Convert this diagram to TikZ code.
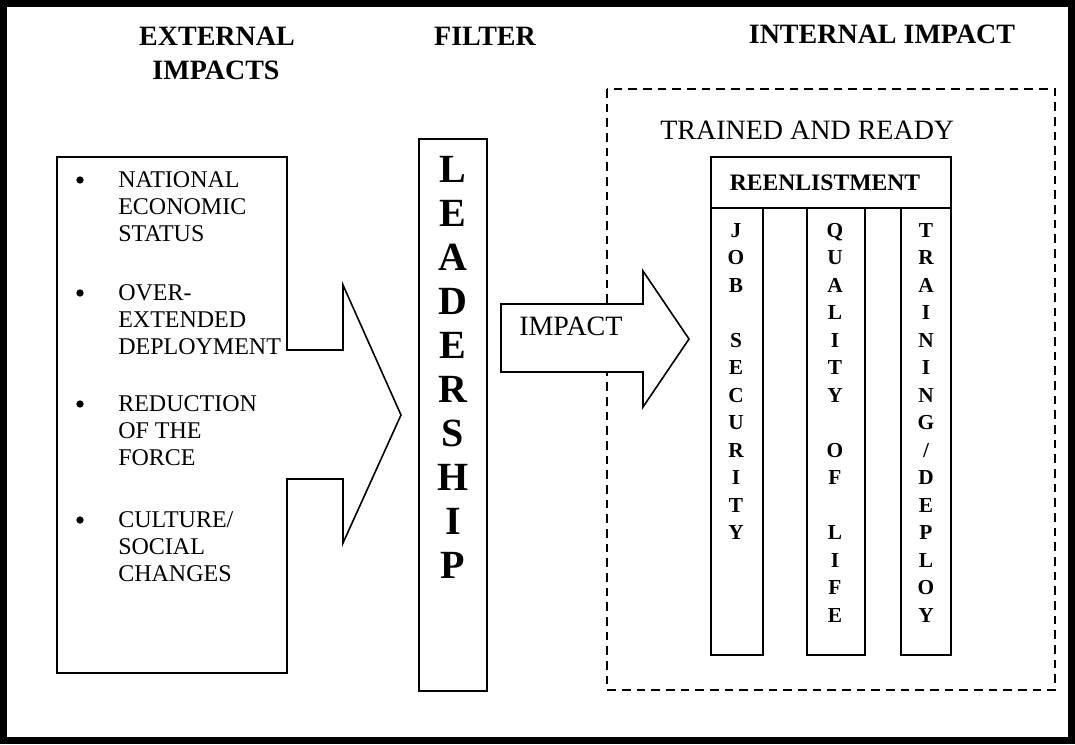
\documentclass[tikz,border=0pt]{standalone}
\usepackage{fontspec}
\setmainfont{Liberation Serif}

\tikzset{
  box/.style={draw, line width=1.2pt, line join=miter},
  dashbox/.style={draw, line width=1.2pt, dash pattern=on 6.5pt off 4.5pt},
  heading/.style={font=\fontsize{21}{25}\selectfont\bfseries, inner sep=0pt},
  itemtext/.style={font=\fontsize{18}{20.6}\selectfont, inner sep=0pt},
  bulletdot/.style={circle, fill, inner sep=0pt, minimum size=5.5pt},
  plaintext/.style={font=\fontsize{21}{25}\selectfont, inner sep=0pt},
  bigletter/.style={font=\fontsize{30}{33}\selectfont\bfseries, inner sep=0pt},
  colletter/.style={font=\fontsize{16}{20}\selectfont\bfseries, inner sep=0pt},
}

\begin{document}
\begin{tikzpicture}[x=0.75pt,y=-0.75pt]
\useasboundingbox (0,0) rectangle (1075,744);
\draw[line width=5.25pt] (3.5,3.5) rectangle (1071.5,740.5);

% headings
\node[heading, anchor=base] (ext1) at (217,45) {EXTERNAL};
\node[heading, anchor=base] (ext2) at (216,79) {IMPACTS};
\node[heading, anchor=base] (filter) at (485,45) {FILTER};
\node[heading, anchor=base] (internal) at (882,43) {INTERNAL IMPACT};

% external impacts box with its arrow head
\coordinate (e1) at (57,157);
\coordinate (e2) at (287,157);
\coordinate (e3) at (287,350);
\coordinate (e4) at (343,350);
\coordinate (e5) at (343,285);
\coordinate (e6) at (401,415);
\coordinate (e7) at (343,543);
\coordinate (e8) at (343,479);
\coordinate (e9) at (287,479);
\coordinate (e10) at (287,673);
\coordinate (e11) at (57,673);
\draw[box] (e1)--(e2)--(e3)--(e4)--(e5)--(e6)--(e7)--(e8)--(e9)--(e10)--(e11)--cycle;

\node[bulletdot] (b1) at (80,180) {};
\node[bulletdot] (b2) at (80,293) {};
\node[bulletdot] (b3) at (80,404) {};
\node[bulletdot] (b4) at (80,520) {};
\node[itemtext, anchor=base west] (econ) at (118,187) {\parbox[t]{170pt}{NATIONAL\\ECONOMIC\\STATUS}};
\node[itemtext, anchor=base west] (deploy) at (118,300) {\parbox[t]{170pt}{OVER-\\EXTENDED\\DEPLOYMENT}};
\node[itemtext, anchor=base west] (force) at (118,411) {\parbox[t]{170pt}{REDUCTION\\OF THE\\FORCE}};
\node[itemtext, anchor=base west] (social) at (118,527) {\parbox[t]{170pt}{CULTURE/\\SOCIAL\\CHANGES}};

% filter
\draw[box] (419,139) rectangle (487,691);
\foreach \ch [count=\i from 0] in {L,E,A,D,E,R,S,H,I,P}
  \node[bigletter, anchor=base] (lead-\i) at (453,{182+44*\i}) {\ch};

% internal impact
\draw[dashbox] (607,89) rectangle (1055,690);
\node[plaintext, anchor=base west] (ready) at (660,139) {TRAINED AND READY};

\coordinate (a1) at (501,304);
\coordinate (a2) at (643,304);
\coordinate (a3) at (643,271);
\coordinate (a4) at (689,339);
\coordinate (a5) at (643,407);
\coordinate (a6) at (643,372);
\coordinate (a7) at (501,372);
\draw[box, fill=white] (a1)--(a2)--(a3)--(a4)--(a5)--(a6)--(a7)--cycle;
\node[plaintext, anchor=base west] (impact) at (519,335) {IMPACT};

\draw[box] (711,157) rectangle (951,208);
\node[colletter, font=\fontsize{17.7}{20}\selectfont\bfseries, anchor=base] (reen) at (825,190) {REENLISTMENT};
\draw[box] (711,208) rectangle (763,655);
\draw[box] (807,208) rectangle (865,655);
\draw[box] (901,208) rectangle (951,655);

\foreach \ch [count=\i from 0] in {J,O,B,{},S,E,C,U,R,I,T,Y}
  \node[colletter, anchor=base] (job-\i) at (736,{237+27.5*\i}) {\ch};
\foreach \ch [count=\i from 0] in {Q,U,A,L,I,T,Y,{},O,F,{},L,I,F,E}
  \node[colletter, anchor=base] (life-\i) at (835,{237+27.5*\i}) {\ch};
\foreach \ch [count=\i from 0] in {T,R,A,I,N,I,N,G,/,D,E,P,L,O,Y}
  \node[colletter, anchor=base] (train-\i) at (926,{237+27.5*\i}) {\ch};
\end{tikzpicture}
\end{document}
